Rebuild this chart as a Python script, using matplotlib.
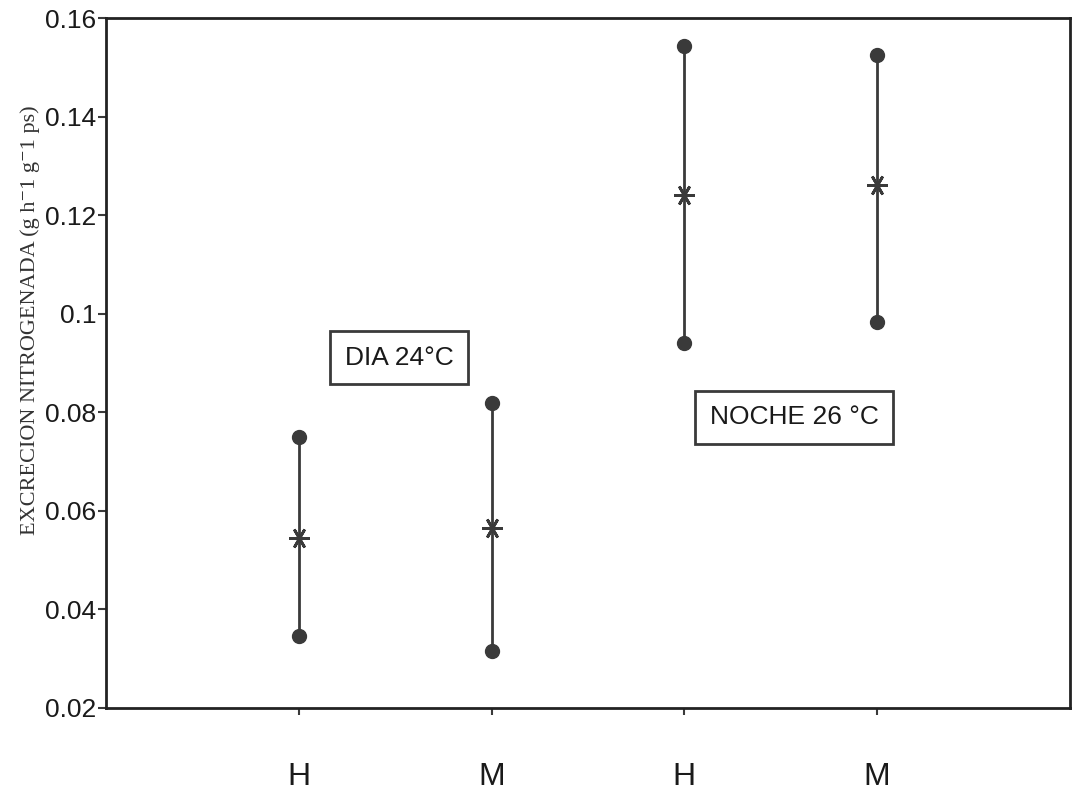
import matplotlib
matplotlib.use("Agg")
import matplotlib.pyplot as plt

# grupos: H / M, dia y noche
grupos = ["H", "M", "H", "M"]
posiciones = [1, 2, 3, 4]
medias = [0.0545, 0.0565, 0.1242, 0.1262]
maximos = [0.0749, 0.0819, 0.1544, 0.1526]
minimos = [0.0345, 0.0315, 0.0940, 0.0984]
yticks = [0.02, 0.04, 0.06, 0.08, 0.1, 0.12, 0.14, 0.16]
ytick_labels = ["0.02", "0.04", "0.06", "0.08", "0.1", "0.12", "0.14", "0.16"]

col = "#3a3a3a"

fig = plt.figure(figsize=(10.72, 7.98), dpi=100)
ax = fig.add_axes([0.099, 0.113, 0.899, 0.864])

for x, lo, hi, m in zip(posiciones, minimos, maximos, medias):
    ax.plot([x, x], [lo, hi], color=col, lw=2, solid_capstyle="butt")
    ax.plot([x, x], [lo, hi], ls="none", marker="o", ms=10, color=col)
    ax.plot(x, m, marker=(6, 2, 90), ms=15, mew=2, color=col, ls="none")

ax.set_xlim(0, 5)
ax.set_ylim(0.02, 0.16)
ax.set_yticks(yticks)
ax.set_yticklabels(ytick_labels, fontsize=19, family="Liberation Sans", color="#1a1a1a")
ax.set_xticks(posiciones)
ax.set_xticklabels(grupos, fontsize=23, family="Liberation Sans", color="#1a1a1a")
ax.tick_params(axis="x", length=5, width=1.5, pad=34, color=col)
ax.tick_params(axis="y", length=6, width=1.5, pad=1, color=col)

for s in ax.spines.values():
    s.set_color("#222222")
    s.set_linewidth(2)

ax.set_ylabel("EXCRECION NITROGENADA (g h\u207b1 g\u207b1 ps)", fontsize=16,
              family=["Liberation Serif", "DejaVu Serif"], color="#333333")
ax.yaxis.set_label_coords(-0.069, 0.562)

caja = dict(boxstyle="square,pad=0.55", fc="white", ec=col, lw=2)
ax.text(1.52, 0.0911, "DIA 24\u00b0C", fontsize=19, family="Liberation Sans",
        ha="center", va="center", color="#1a1a1a", bbox=caja)
ax.text(3.57, 0.0790, "NOCHE 26 \u00b0C", fontsize=19, family="Liberation Sans",
        ha="center", va="center", color="#1a1a1a", bbox=caja)

fig.savefig("out.png", dpi=100)
